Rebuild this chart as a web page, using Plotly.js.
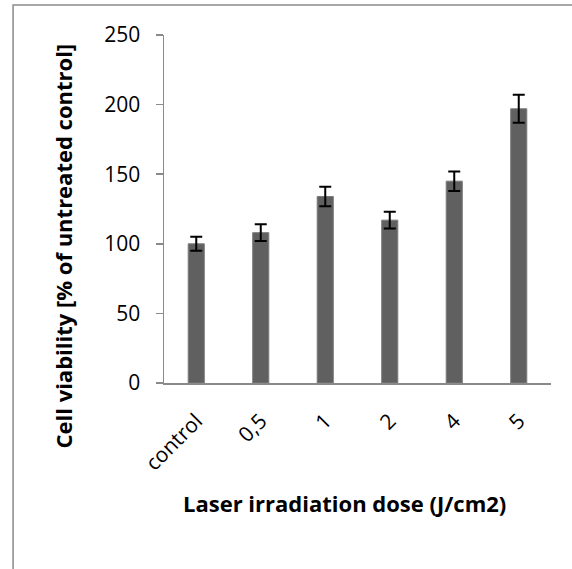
<!DOCTYPE html>
<html>
<head>
<meta charset="utf-8">
<script src="https://cdn.plot.ly/plotly-3.0.1.min.js"></script>
<style>html,body{margin:0;padding:0;background:#fff;}#chart{width:572px;height:569px;}</style>
</head>
<body>
<div id="chart"></div>
<script>
const categories = ["control", "0,5", "1", "2", "4", "5"];
const viability = [100, 108, 134, 117, 145, 197];
const errors = [5, 6, 7, 6, 7, 10];
const yTickValues = [0, 50, 100, 150, 200, 250];

const trace = {
  type: 'bar',
  x: categories,
  y: viability,
  marker: {color: '#606060', line: {color: '#7c7c7c', width: 1}},
  error_y: {type: 'data', array: errors, visible: true, color: '#000000', thickness: 2, width: 6},
  hoverinfo: 'none'
};

const axisGray = '#8a8a8a';
const layout = {
  width: 572, height: 569,
  margin: {l: 164, r: 21, t: 35, b: 186},
  paper_bgcolor: '#ffffff', plot_bgcolor: '#ffffff',
  showlegend: false,
  bargap: 0.75,
  font: {family: 'Open Sans, sans-serif', color: '#000000'},
  xaxis: {
    type: 'category',
    tickangle: -45,
    ticks: '',
    showline: true, linecolor: axisGray, linewidth: 1.5,
    showgrid: false, zeroline: false,
    ticklabelstandoff: 16,
    tickfont: {size: 21, family: 'Open Sans, sans-serif', color: '#000'},
    automargin: false
  },
  yaxis: {
    range: [0, 250],
    tickvals: yTickValues,
    ticks: 'outside', ticklen: 7, tickwidth: 1.5, tickcolor: axisGray,
    showline: true, linecolor: axisGray, linewidth: 1.5,
    showgrid: false, zeroline: false,
    ticklabelstandoff: 11,
    tickfont: {size: 21, family: 'Open Sans, sans-serif', color: '#000'},
    automargin: false
  },
  shapes: [{
    type: 'rect', xref: 'paper', yref: 'paper',
    x0: -0.390, x1: 1.3, y0: -0.7, y1: 1.086,
    line: {color: '#8a8a8a', width: 1.5}, fillcolor: 'rgba(0,0,0,0)', layer: 'below'
  }],
  annotations: [
    {text: '<b>Laser irradiation dose (J/cm2)</b>', xref: 'paper', yref: 'paper',
     x: 0.4677, y: -0.345, xanchor: 'center', yanchor: 'middle', showarrow: false,
     font: {size: 22, family: 'Open Sans, sans-serif', color: '#000'}},
    {text: '<b>Cell viability [% of untreated control]</b>', xref: 'paper', yref: 'paper',
     x: -0.261, y: 0.395, xanchor: 'center', yanchor: 'middle', textangle: -90, showarrow: false,
     font: {size: 22, family: 'Open Sans, sans-serif', color: '#000'}}
  ]
};

Plotly.newPlot('chart', [trace], layout, {staticPlot: true, displayModeBar: false});
</script>
</body>
</html>
